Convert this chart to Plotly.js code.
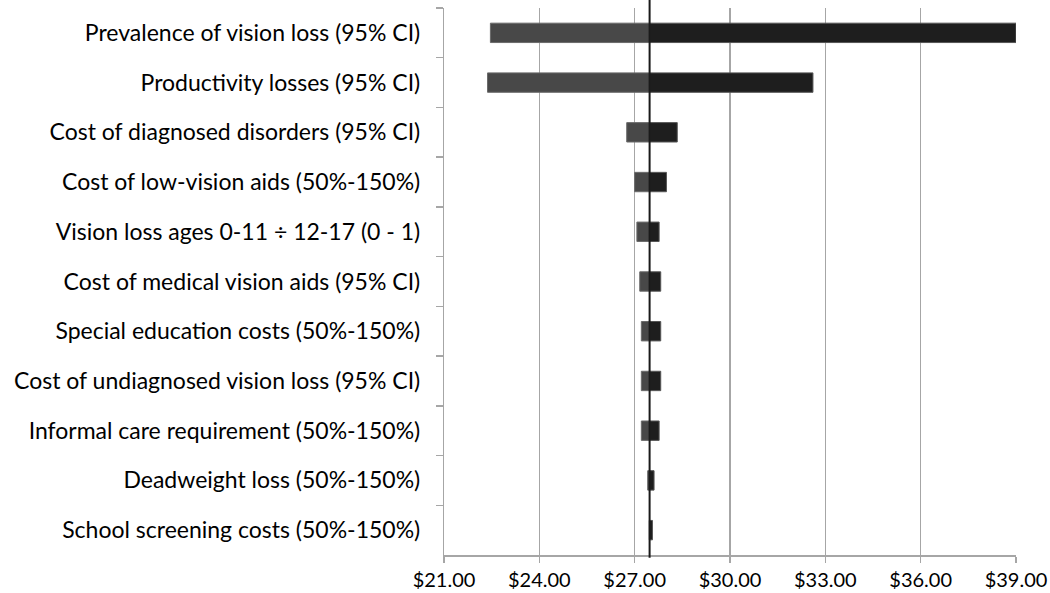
<!DOCTYPE html>
<html>
<head>
<meta charset="utf-8">
<script src="https://cdn.plot.ly/plotly-3.0.1.min.js"></script>
<style>html,body{margin:0;padding:0;background:#fff;}#chart{width:1050px;height:593px;}</style>
</head>
<body>
<div id="chart"></div>
<script>
const categories = [
  "Prevalence of vision loss (95% CI)",
  "Productivity losses (95% CI)",
  "Cost of diagnosed disorders (95% CI)",
  "Cost of low-vision aids (50%-150%)",
  "Vision loss ages 0-11 \u00f7 12-17 (0 - 1)",
  "Cost of medical vision aids (95% CI)",
  "Special education costs (50%-150%)",
  "Cost of undiagnosed vision loss (95% CI)",
  "Informal care requirement (50%-150%)",
  "Deadweight loss (50%-150%)",
  "School screening costs (50%-150%)"
];
const baseline = 27.47;
const lowValues  = [22.46, 22.37, 26.75, 27.00, 27.07, 27.16, 27.21, 27.21, 27.21, 27.41, 27.46];
const highValues = [39.00, 32.61, 28.34, 28.00, 27.77, 27.82, 27.82, 27.82, 27.77, 27.61, 27.56];
const tickValues = [21, 24, 27, 30, 33, 36, 39];

const lowTrace = {
  type: 'bar', orientation: 'h', y: categories,
  base: lowValues.map(() => baseline),
  x: lowValues.map(v => v - baseline),
  marker: {color: '#484848', line: {color: '#6a6a6a', width: 1}},
  hoverinfo: 'skip', showlegend: false
};
const highTrace = {
  type: 'bar', orientation: 'h', y: categories,
  base: highValues.map(() => baseline),
  x: highValues.map(v => v - baseline),
  marker: {color: '#1e1e1e', line: {color: '#555555', width: 1}},
  hoverinfo: 'skip', showlegend: false
};

const layout = {
  width: 1050, height: 593,
  margin: {l: 444, r: 34, t: 8, b: 38, autoexpand: false},
  paper_bgcolor: '#fff', plot_bgcolor: '#fff',
  barmode: 'overlay', bargap: 0.61,
  font: {family: 'Lato, "Open Sans", sans-serif', color: '#000', size: 20},
  xaxis: {
    range: [21, 39], tickvals: tickValues,
    ticktext: tickValues.map(v => '$' + v.toFixed(2)),
    showgrid: true, gridcolor: '#a6a6a6', gridwidth: 1.5,
    showline: true, linecolor: '#a6a6a6', linewidth: 1.5,
    ticks: 'outside', ticklen: 6, tickcolor: '#a6a6a6', tickwidth: 1.5,
    zeroline: false, tickfont: {size: 20}, fixedrange: true, automargin: false
  },
  yaxis: {
    autorange: 'reversed', type: 'category',
    showline: true, linecolor: '#a6a6a6', linewidth: 1.5,
    ticks: 'outside', tickson: 'boundaries', ticklen: 7, tickcolor: '#a6a6a6', tickwidth: 1.5,
    showgrid: false, tickfont: {size: 23}, ticksuffix: '   ', fixedrange: true, automargin: false
  },
  shapes: [{
    type: 'line', xref: 'x', yref: 'paper',
    x0: baseline, x1: baseline, y0: -0.005, y1: 1.015,
    line: {color: '#1a1a1a', width: 2}
  }]
};

Plotly.newPlot('chart', [lowTrace, highTrace], layout, {displayModeBar: false, staticPlot: true});
</script>
</body>
</html>
